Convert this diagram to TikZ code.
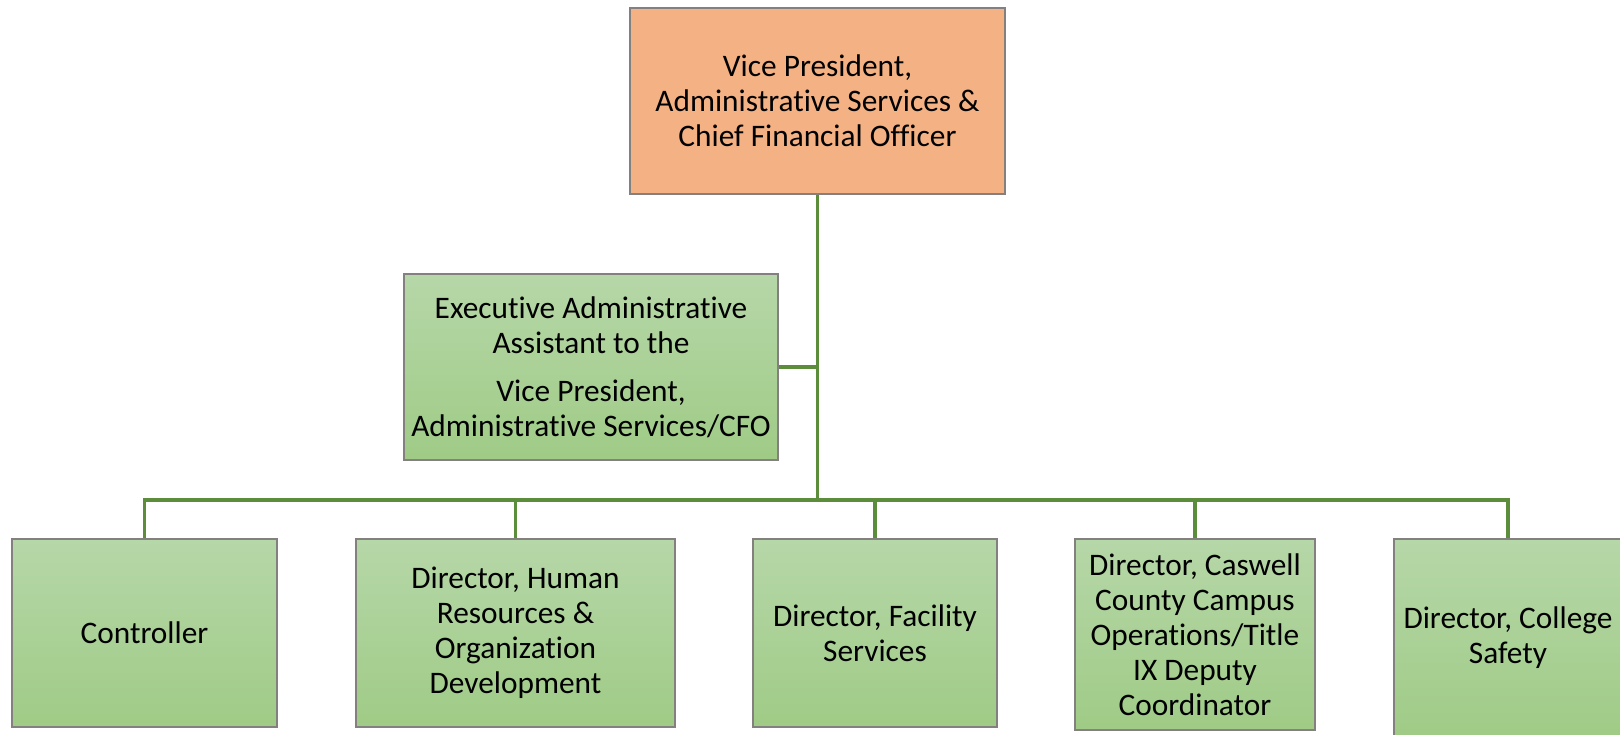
\documentclass[tikz,border=0pt]{standalone}
\usepackage{fontspec}
\setmainfont{Carlito}[Ligatures=NoCommon]
\definecolor{orangefill}{HTML}{F4B183}
\definecolor{gtop}{HTML}{B6D7A8}
\definecolor{gbot}{HTML}{9FCB86}
\definecolor{lineg}{HTML}{5B8D3B}
\definecolor{boxborder}{HTML}{858080}
\begin{document}
\begin{tikzpicture}[x=0.75pt,y=-0.75pt,
  box/.style={draw=boxborder, line width=0.8pt, align=center, inner sep=0pt,
    font=\fontsize{23.5}{26.25}\selectfont, text=black},
  obox/.style={box, fill=orangefill},
  gbox/.style={box, top color=gtop, bottom color=gbot},
  sz/.style 2 args={minimum width=#1*0.75pt, minimum height=#2*0.75pt},
  conn/.style={draw=lineg, line width=2.3pt}]
\clip (0,0) rectangle (1620,735);
\useasboundingbox (0,0) rectangle (1620,735);

\node[obox, sz={375}{186}] (vp) at (817.5,101)
  {Vice President,\\Administrative Services \&\\Chief Financial Officer};
\node[gbox, sz={374}{186}] (exec) at (591,367)
  {Executive Administrative\\Assistant to the\\[10pt]Vice President,\\Administrative Services/CFO};
\node[gbox, sz={265}{188}] (ctrl) at (144.5,633) {Controller};
\node[gbox, sz={319}{188}] (hr) at (515.5,633)
  {Director, Human\\Resources \&\\Organization\\Development};
\node[gbox, sz={244}{188}] (fac) at (875,633) {Director, Facility\\Services};
\node[gbox, sz={240}{191}] (cas) at (1195,634.5)
  {Director, Caswell\\County Campus\\Operations/Title\\IX Deputy\\Coordinator};
\node[gbox, sz={228}{198}] (saf) at (1508,638) {Director, College\\Safety};

\coordinate (bus) at (817.5,500);
\draw[conn] (vp.south) -- (bus);
\draw[conn] (exec.east) -- (exec.east -| bus);
\draw[conn] (ctrl.north) -- (ctrl.north |- bus) -- (saf.north |- bus) -- (saf.north);
\foreach \n in {hr,fac,cas} \draw[conn] (\n.north) -- (\n.north |- bus);
\end{tikzpicture}
\end{document}
